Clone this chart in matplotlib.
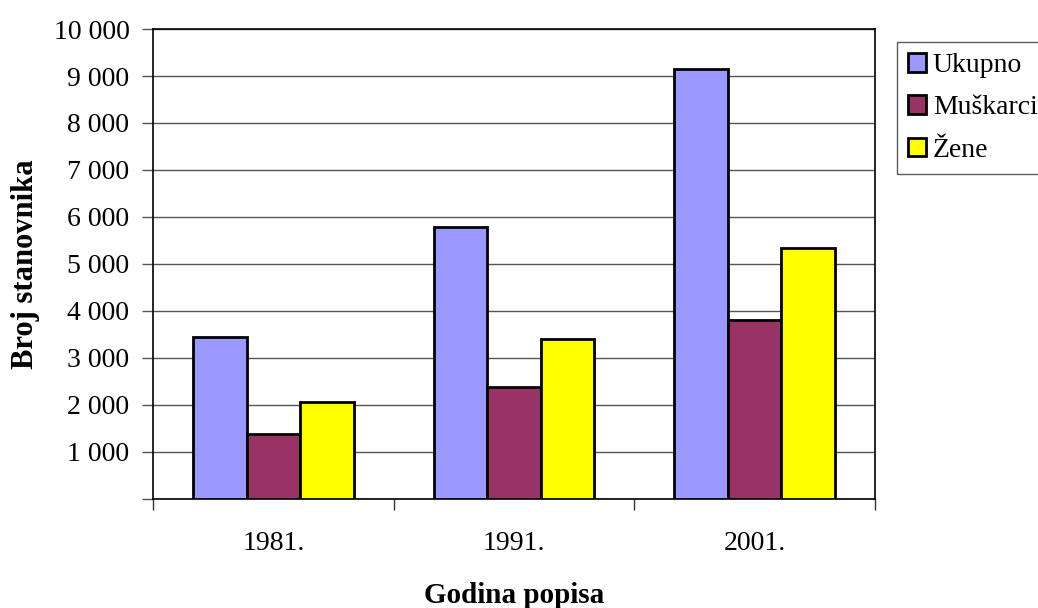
import numpy as np
import matplotlib.pyplot as plt
from matplotlib.ticker import FuncFormatter

godine = ['1981.', '1991.', '2001.']
ukupno = [3440, 5790, 9140]
muskarci = [1380, 2385, 3810]
zene = [2070, 3405, 5340]
serije = ['Ukupno', 'Muškarci', 'Žene']
boje = ['#9999ff', '#993366', '#ffff00']

plt.rcParams['font.family'] = ['Liberation Serif', 'DejaVu Serif']

fig = plt.figure(figsize=(10.38, 6.08), dpi=100)
ax = fig.add_axes([0.1474, 0.1793, 0.6956, 0.773])

x = np.arange(len(godine))
w = 1 / 4.5
for i, (vals, naziv, boja) in enumerate(zip([ukupno, muskarci, zene], serije, boje)):
    ax.bar(x + (i - 1) * w, vals, w, color=boja, edgecolor='black', linewidth=2,
           label=naziv, zorder=3)

ax.set_xlim(-0.5, 2.5)
ax.set_ylim(0, 10000)
ax.set_yticks(np.arange(0, 10001, 1000))
ax.yaxis.set_major_formatter(FuncFormatter(
    lambda v, p: '' if v == 0 else f'{int(v):,}'.replace(',', ' ')))
ax.set_xticks(x)
ax.set_xticklabels(godine)
ax.set_xticks([-0.5, 0.5, 1.5, 2.5], minor=True)
ax.tick_params(axis='x', which='major', length=0, labelsize=20, pad=23)
ax.tick_params(axis='x', which='minor', length=8, width=1, color='#333333')
ax.tick_params(axis='y', length=8, width=1, color='#555555', labelsize=20, pad=9)
ax.grid(axis='y', color='#555555', linewidth=1, zorder=0)

for s in ax.spines.values():
    s.set_color('black')
    s.set_linewidth(1.2)

ax.set_xlabel('Godina popisa', fontsize=21, fontweight='bold', labelpad=19)
ax.set_ylabel('Broj stanovnika', fontsize=22, fontweight='bold', labelpad=10)

leg = fig.legend(loc='upper left', bbox_to_anchor=(0.864, 0.931), fontsize=20,
                 frameon=True, fancybox=False, edgecolor='#333333',
                 handlelength=0.65, handleheight=0.65, handletextpad=0.25,
                 borderpad=0.4, labelspacing=0.62, borderaxespad=0)
leg.get_frame().set_linewidth(1)

fig.savefig('out.png', dpi=100)
